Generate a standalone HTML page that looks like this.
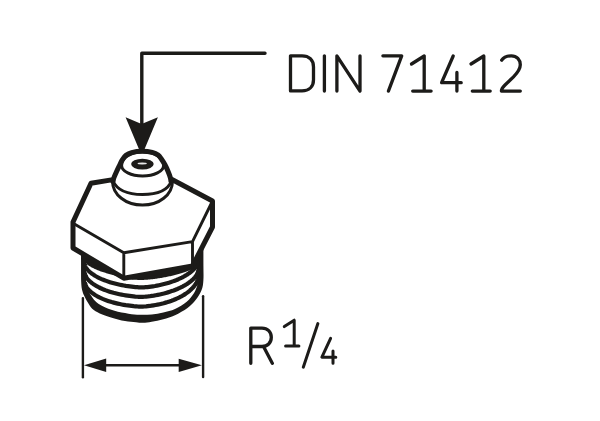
<!DOCTYPE html>
<html><head><meta charset="utf-8"><style>
html,body{margin:0;padding:0;background:#fff;width:600px;height:421px;overflow:hidden;font-family:"Liberation Sans",sans-serif;}
svg{display:block;}
</style></head><body>
<svg width="600" height="421" viewBox="0 0 600 421">
<g fill="none" stroke="#1c1b19" stroke-linecap="round" stroke-linejoin="round">
<!-- leader -->
<path d="M265,53.3 H141.8 V124" stroke-width="3.4"/>
<polygon points="125.6,117.2 141.6,123.9 157.9,117.2 144.4,149.5 139.1,149.5" fill="#1c1b19" stroke="none"/>

<!-- DIN 71412 -->
<g stroke-width="3.3">
<path d="M290.5,55.8 H302 C309,55.8 313.5,60 313.5,67 V79.7 C313.5,86.7 309,90.9 302,90.9 H290.5 Z"/>
<path d="M324.4,55.8 V91.1"/>
<path d="M336.9,91.1 V55.8 L360,91.1 V55.8"/>
<path d="M382.9,55.8 H401.7 L388.4,91.1"/>
<path d="M411.5,64 L424.2,56 V91.1 M412.7,91.1 H431.1"/>
<path d="M453.2,56 L441.6,82.7 H461.2 M456.9,72.5 V91.1"/>
<path d="M471,64 L483.8,56 V91.1 M472.3,91.1 H490.2"/>
<path d="M501.7,60.2 C503.5,57.3 507,55.8 511.3,55.8 C516.8,55.8 520.3,59.8 520.3,64.8 C520.3,69.5 517.5,72.8 513.5,76.8 L505,85 C502.6,87.4 501.4,89 501.4,91.1 H520.3"/>
</g>

<!-- R 1/4 -->
<g stroke-width="3.3">
<path d="M250.8,363.3 V328.1 H262 C267.5,328.1 271.3,331.8 271.3,337.3 C271.3,342.8 267.5,346.5 262,346.5 H250.8 M263.5,346.5 L272.3,363.3"/>
</g>
<g stroke-width="3">
<path d="M284.3,326.6 L294.2,320.2 V345.9 M285.6,345.9 H298.9"/>
<path d="M317.9,323.6 L303.3,367.2"/>
<path d="M330.6,338.3 L321.9,357.2 H335.8 M333,351 V363.2"/>
</g>

<!-- dimension -->
<g stroke-width="2.4" stroke-linecap="butt">
<path d="M82.9,298.1 V377.3" stroke-linecap="round"/>
<path d="M203.1,296.3 V377" stroke-linecap="round"/>
<path d="M100,365.3 H185"/>
</g>
<polygon points="84,365.3 106.2,358.4 106.2,371.9" fill="#1c1b19" stroke="none"/>
<polygon points="201.9,365.3 178.7,358.7 178.7,371.9" fill="#1c1b19" stroke="none"/>
</g>

<!-- thread -->
<g stroke="none">
<path d="M81.00,240.00 C81.01,243.67 81.02,255.00 81.05,262.00 C81.08,269.00 80.97,277.17 81.20,282.00 C81.43,286.83 81.80,288.52 82.40,291.00 C83.00,293.48 83.87,294.93 84.80,296.90 C85.73,298.87 86.77,300.82 88.00,302.80 C89.23,304.78 90.23,307.03 92.20,308.80 C94.17,310.57 96.67,311.97 99.80,313.40 C102.93,314.83 106.80,316.13 111.00,317.40 C115.20,318.67 120.83,320.20 125.00,321.00 C129.17,321.80 133.00,321.90 136.00,322.20 C139.00,322.50 140.38,322.88 143.00,322.80 C145.62,322.72 148.32,322.30 151.70,321.70 C155.08,321.10 159.42,320.28 163.30,319.20 C167.18,318.12 170.97,317.07 175.00,315.20 C179.03,313.33 184.03,310.57 187.50,308.00 C190.97,305.43 193.45,302.80 195.80,299.80 C198.15,296.80 200.33,293.30 201.60,290.00 C202.87,286.70 203.10,284.67 203.40,280.00 C203.70,275.33 203.40,268.67 203.40,262.00 C203.40,255.33 203.40,243.67 203.40,240.00 Z" fill="#1c1b19"/>
<path d="M86.00,263.04 L86.01,263.11 L86.06,263.22 L86.13,263.35 L86.24,263.50 L86.37,263.67 L86.53,263.86 L86.73,264.06 L86.95,264.27 L87.20,264.49 L87.48,264.72 L87.79,264.96 L88.12,265.21 L88.49,265.47 L88.88,265.73 L89.30,266.00 L89.74,266.27 L90.21,266.56 L90.71,266.84 L91.24,267.14 L91.79,267.43 L92.36,267.73 L92.96,268.04 L93.58,268.34 L94.23,268.65 L94.90,268.96 L95.59,269.28 L96.30,269.59 L97.03,269.91 L97.79,270.23 L98.56,270.55 L99.35,270.87 L100.16,271.18 L100.99,271.47 L101.83,271.75 L102.69,272.03 L103.57,272.31 L104.45,272.59 L105.36,272.87 L106.27,273.14 L107.20,273.41 L108.14,273.68 L109.09,273.94 L110.04,274.20 L111.01,274.46 L111.98,274.71 L112.96,274.96 L113.95,275.21 L114.94,275.45 L115.93,275.69 L116.92,275.93 L117.92,276.17 L118.92,276.42 L119.91,276.67 L120.91,276.94 L121.90,277.21 L122.88,277.50 L123.86,277.79 L124.84,278.09 L125.80,278.38 L126.76,278.65 L127.71,278.90 L128.64,279.11 L129.57,279.29 L130.47,279.44 L131.37,279.57 L132.24,279.67 L133.09,279.73 L133.93,279.78 L134.74,279.81 L135.52,279.83 L136.28,279.85 L137.01,279.87 L137.70,279.89 L138.36,279.91 L138.97,279.94 L139.54,279.96 L140.06,279.98 L140.51,280.00 L140.88,280.01 L141.10,280.01 L141.32,280.01 L141.69,280.00 L142.14,279.98 L142.66,279.96 L143.23,279.93 L143.84,279.90 L144.50,279.86 L145.19,279.81 L145.92,279.76 L146.68,279.71 L147.46,279.65 L148.27,279.58 L149.11,279.50 L149.96,279.42 L150.83,279.33 L151.73,279.23 L152.63,279.13 L153.56,279.02 L154.49,278.90 L155.44,278.77 L156.40,278.64 L157.36,278.50 L158.34,278.36 L159.32,278.21 L160.30,278.05 L161.29,277.88 L162.29,277.71 L163.28,277.54 L164.28,277.35 L165.28,277.17 L166.27,276.97 L167.26,276.77 L168.25,276.57 L169.24,276.36 L170.22,276.15 L171.19,275.93 L172.16,275.70 L173.11,275.48 L174.06,275.24 L175.00,275.01 L175.93,274.77 L176.84,274.53 L177.75,274.28 L178.63,274.03 L179.51,273.78 L180.37,273.53 L181.21,273.27 L182.04,273.02 L182.85,272.76 L183.64,272.50 L184.41,272.23 L185.17,271.97 L185.90,271.71 L186.61,271.45 L187.30,271.18 L187.97,270.92 L188.62,270.66 L189.24,270.40 L189.84,270.14 L190.41,269.88 L190.96,269.63 L196.8,268 L197.2,286 C196.65,287.22 195.65,290.67 193.90,293.30 C192.15,295.93 189.85,299.18 186.70,301.80 C183.55,304.42 178.90,307.22 175.00,309.00 C171.10,310.78 167.18,311.60 163.30,312.50 C159.42,313.40 155.58,314.02 151.70,314.40 C147.82,314.78 143.87,314.92 140.00,314.80 C136.13,314.68 132.75,314.37 128.50,313.70 C124.25,313.03 118.78,312.05 114.50,310.80 C110.22,309.55 106.10,307.93 102.80,306.20 C99.50,304.47 97.03,302.77 94.70,300.40 C92.37,298.03 89.78,293.40 88.80,292.00 L87.6,288 L86,281 Z" fill="#fff"/>
<g fill="none" stroke="#1c1b19" stroke-width="4.2" stroke-linecap="round" stroke-linejoin="round">
<path d="M85.12,265.10 L85.17,265.56 L85.33,266.17 L85.59,266.84 L85.96,267.56 L86.43,268.31 L87.00,269.09 L87.67,269.89 L88.44,270.71 L89.31,271.53 L90.27,272.36 L91.33,273.20 L92.47,274.03 L93.70,274.86 L95.01,275.69 L96.41,276.51 L97.88,277.31 L99.42,278.10 L101.03,278.85 L102.70,279.56 L104.44,280.24 L106.22,280.90 L108.06,281.54 L109.94,282.14 L111.86,282.72 L113.82,283.27 L115.80,283.78 L117.80,284.26 L119.81,284.70 L121.83,285.11 L123.85,285.48 L125.87,285.82 L127.87,286.11 L129.84,286.37 L131.77,286.64 L133.66,286.87 L135.48,287.06 L137.22,287.21 L138.85,287.32 L140.31,287.38 L141.42,287.40 L142.53,287.37 L143.99,287.31 L145.61,287.19 L147.35,287.04 L149.17,286.84 L151.06,286.60 L152.99,286.32 L154.97,286.00 L156.96,285.63 L158.98,285.23 L161.00,284.79 L163.02,284.31 L165.04,283.79 L167.04,283.24 L169.02,282.65 L170.97,282.03 L172.89,281.37 L174.77,280.68 L176.61,279.96 L178.40,279.21 L180.13,278.42 L181.80,277.61 L183.41,276.78 L184.95,275.92 L186.42,275.04 L187.82,274.13 L189.13,273.22 L190.36,272.29 L191.51,271.35 L192.56,270.42 L193.52,269.48 L194.39,268.55 L195.16,267.64 L195.83,266.75 L196.41,265.89 L196.88,265.07 L197.24,264.29 L197.51,263.58 L197.66,262.95 L197.72,262.48"/>
<path d="M85.14,273.94 L85.20,274.46 L85.35,275.13 L85.61,275.86 L85.97,276.62 L86.43,277.42 L86.99,278.24 L87.65,279.08 L88.40,279.93 L89.25,280.79 L90.20,281.65 L91.23,282.50 L92.36,283.36 L93.57,284.21 L94.86,285.05 L96.23,285.88 L97.68,286.69 L99.20,287.49 L100.79,288.26 L102.44,288.99 L104.15,289.69 L105.92,290.37 L107.74,291.02 L109.61,291.64 L111.52,292.23 L113.46,292.79 L115.44,293.31 L117.44,293.80 L119.45,294.25 L121.48,294.67 L123.52,295.05 L125.55,295.39 L127.57,295.69 L129.57,295.95 L131.54,296.20 L133.48,296.41 L135.35,296.59 L137.16,296.72 L138.86,296.81 L140.42,296.86 L141.64,296.86 L142.87,296.83 L144.42,296.74 L146.13,296.61 L147.93,296.44 L149.81,296.22 L151.74,295.95 L153.72,295.65 L155.72,295.30 L157.74,294.91 L159.77,294.48 L161.81,294.01 L163.84,293.51 L165.85,292.96 L167.85,292.38 L169.83,291.76 L171.77,291.11 L173.68,290.43 L175.54,289.71 L177.37,288.96 L179.13,288.19 L180.85,287.38 L182.50,286.55 L184.09,285.70 L185.61,284.82 L187.06,283.92 L188.43,283.00 L189.72,282.08 L190.93,281.14 L192.06,280.19 L193.09,279.24 L194.04,278.29 L194.89,277.35 L195.64,276.42 L196.30,275.51 L196.86,274.63 L197.32,273.77 L197.68,272.96 L197.94,272.20 L198.09,271.51 L198.14,270.98"/>
<path d="M85.27,283.64 L85.33,284.15 L85.48,284.82 L85.74,285.55 L86.10,286.33 L86.56,287.14 L87.13,287.97 L87.79,288.82 L88.55,289.69 L89.41,290.56 L90.36,291.44 L91.40,292.31 L92.53,293.19 L93.74,294.06 L95.04,294.92 L96.42,295.77 L97.87,296.60 L99.40,297.42 L100.99,298.19 L102.65,298.91 L104.37,299.60 L106.14,300.27 L107.97,300.91 L109.84,301.52 L111.75,302.10 L113.69,302.64 L115.67,303.15 L117.67,303.62 L119.68,304.06 L121.71,304.46 L123.74,304.82 L125.76,305.14 L127.77,305.41 L129.76,305.65 L131.73,305.91 L133.64,306.14 L135.50,306.32 L137.28,306.46 L138.96,306.55 L140.49,306.61 L141.67,306.61 L142.86,306.58 L144.38,306.49 L146.06,306.36 L147.85,306.18 L149.71,305.96 L151.62,305.69 L153.58,305.38 L155.57,305.03 L157.59,304.63 L159.61,304.19 L161.64,303.71 L163.67,303.19 L165.68,302.62 L167.68,302.02 L169.65,301.38 L171.60,300.70 L173.51,299.98 L175.38,299.22 L177.21,298.43 L178.98,297.59 L180.70,296.72 L182.36,295.81 L183.95,294.86 L185.48,293.88 L186.93,292.87 L188.31,291.83 L189.61,290.77 L190.82,289.69 L191.95,288.60 L192.99,287.50 L193.94,286.41 L194.80,285.32 L195.56,284.26 L196.22,283.22 L196.78,282.22 L197.25,281.26 L197.61,280.37 L197.87,279.55 L198.02,278.83 L198.07,278.29"/>
</g>

</g>

<g fill="none" stroke="#1c1b19" stroke-linecap="round" stroke-linejoin="round">
<!-- hex -->
<path d="M113,179.6 L91,183.3 L73,222 V248 L123.8,278.2 L192.5,266 L212.5,227 V201 L172,179.5" stroke-width="5" fill="#fff"/>
<path d="M73.5,223.5 L123.8,252.8 L192.5,241.6 L212.5,201 M123.8,252.8 V278 M192.5,241.6 V266" stroke-width="2.9"/>

<!-- nipple -->
<path d="M113.00,181.50 C113.17,180.83 113.38,179.21 114.00,177.50 C114.62,175.79 115.75,173.33 116.70,171.25 C117.65,169.17 118.77,166.91 119.70,165.00 C120.63,163.09 121.25,161.42 122.30,159.80 C123.35,158.18 124.45,156.50 126.00,155.30 C127.55,154.10 128.93,153.27 131.60,152.60 C134.27,151.93 138.55,151.33 142.00,151.30 C145.45,151.27 149.62,151.78 152.30,152.40 C154.98,153.02 156.53,153.82 158.10,155.00 C159.67,156.18 160.53,157.83 161.70,159.50 C162.87,161.17 164.05,163.04 165.10,165.00 C166.15,166.96 167.13,169.17 168.00,171.25 C168.87,173.33 169.80,175.79 170.30,177.50 C170.80,179.21 170.88,180.83 171.00,181.50" stroke-width="5" fill="#fff"/>
<path d="M121.6,165.5 A20.9,13.7 0 0 1 163.6,165.5 A21,10.5 0 0 1 121.6,165.5 Z" stroke-width="3"/>
<path d="M113,181 C117,190 128,194.5 142.5,194.5 C157,194.5 168,190 171.5,181" stroke-width="3"/>
<path d="M112.5,181 C112.5,195 126,205.1 142.5,205.1 C159,205.1 172.5,195 172.5,181" stroke-width="3"/>
<ellipse cx="142.4" cy="164.1" rx="11.3" ry="5.4" fill="#1c1b19" stroke="none"/>
<ellipse cx="142.2" cy="163.5" rx="4.6" ry="0.9" fill="#e8e8e8" stroke="none"/>

</g>
</svg>
</body></html>
